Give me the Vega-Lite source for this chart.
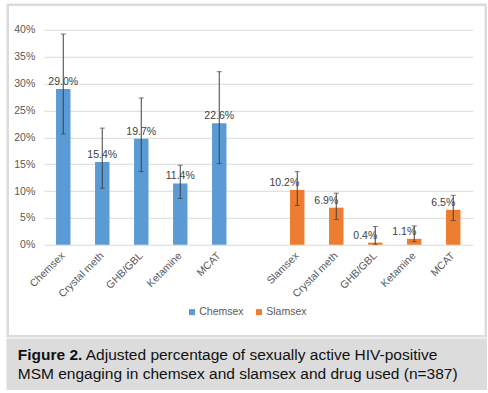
{
  "$schema": "https://vega.github.io/schema/vega-lite/v6.json",
  "background": "white",
  "padding": {"left": 5.75, "top": 2.75, "right": 0, "bottom": 0},
  "columns": 1,
  "spacing": 0,
  "resolve": {"legend": {"color": "independent"}},
  "datasets": {
    "drugs": [
      {"key": "chem|Chemsex", "group": "Chemsex", "value": 0.290, "lo": 0.206, "hi": 0.392},
      {"key": "chem|Crystal meth", "group": "Chemsex", "value": 0.154, "lo": 0.105, "hi": 0.217},
      {"key": "chem|GHB/GBL", "group": "Chemsex", "value": 0.197, "lo": 0.136, "hi": 0.273},
      {"key": "chem|Ketamine", "group": "Chemsex", "value": 0.114, "lo": 0.086, "hi": 0.148},
      {"key": "chem|MCAT", "group": "Chemsex", "value": 0.226, "lo": 0.151, "hi": 0.322},
      {"key": "slam|Slamsex", "group": "Slamsex", "value": 0.102, "lo": 0.073, "hi": 0.136},
      {"key": "slam|Crystal meth", "group": "Slamsex", "value": 0.069, "lo": 0.047, "hi": 0.096},
      {"key": "slam|GHB/GBL", "group": "Slamsex", "value": 0.004, "lo": 0.001, "hi": 0.034},
      {"key": "slam|Ketamine", "group": "Slamsex", "value": 0.011, "lo": 0.006, "hi": 0.035},
      {"key": "slam|MCAT", "group": "Slamsex", "value": 0.065, "lo": 0.045, "hi": 0.092}
    ],
    "caption": [
      {"line": 1, "part": "figure", "text": "Figure 2."},
      {"line": 1, "part": "caption", "text": "Adjusted percentage of sexually active HIV-positive"},
      {"line": 2, "part": "caption", "text": "MSM engaging in chemsex and slamsex and drug used (n=387)"}
    ]
  },
  "concat": [
    {
      "width": 478,
      "height": 331.5,
      "view": {"fill": "white", "stroke": "#dcdcdc", "strokeWidth": 2.5},
      "data": {"name": "drugs"},
      "encoding": {
        "x": {
          "field": "key",
          "type": "nominal",
          "title": null,
          "scale": {
            "domain": ["chem|Chemsex", "chem|Crystal meth", "chem|GHB/GBL", "chem|Ketamine", "chem|MCAT", "gap|", "slam|Slamsex", "slam|Crystal meth", "slam|GHB/GBL", "slam|Ketamine", "slam|MCAT"],
            "range": [36, 465],
            "paddingInner": 0.63,
            "paddingOuter": 0.315
          },
          "axis": {
            "labelExpr": "split(datum.value, '|')[1]",
            "labelAngle": -45,
            "labelAlign": "right",
            "labelBaseline": "middle",
            "labelPadding": 9,
            "labelFontSize": 10.5,
            "labelColor": "#595959",
            "offset": -91.5,
            "domain": false,
            "ticks": false,
            "grid": false
          }
        }
      },
      "layer": [
        {
          "mark": {"type": "bar"},
          "encoding": {
            "y": {
              "field": "value",
              "type": "quantitative",
              "title": null,
              "scale": {"domain": [0, 0.4], "nice": false, "range": [240, 25]},
              "axis": {
                "format": ".0%",
                "values": [0, 0.05, 0.1, 0.15, 0.2, 0.25, 0.3, 0.35, 0.4],
                "offset": -36,
                "domain": false,
                "ticks": false,
                "grid": true,
                "gridColor": "#d9d9d9",
                "gridWidth": 1,
                "labelPadding": 9,
                "labelFontSize": 10.5,
                "labelColor": "#595959"
              }
            },
            "color": {
              "field": "group",
              "type": "nominal",
              "scale": {"domain": ["Chemsex", "Slamsex"], "range": ["#5b9bd5", "#ed7d31"]},
              "legend": {
                "orient": "bottom",
                "title": null,
                "symbolType": "square",
                "symbolSize": 36,
                "symbolStrokeWidth": 0,
                "labelFontSize": 10.5,
                "labelColor": "#595959",
                "labelOffset": 2,
                "columnPadding": 10,
                "offset": -30.5
              }
            }
          }
        },
        {
          "mark": {"type": "errorbar", "ticks": true, "size": 5, "thickness": 1, "color": "#404040"},
          "encoding": {
            "y": {
              "field": "lo",
              "type": "quantitative",
              "title": null,
              "axis": {
                "format": ".0%",
                "values": [0, 0.05, 0.1, 0.15, 0.2, 0.25, 0.3, 0.35, 0.4],
                "offset": -36,
                "domain": false,
                "ticks": false,
                "grid": true,
                "gridColor": "#d9d9d9",
                "gridWidth": 1,
                "labelPadding": 9,
                "labelFontSize": 10.5,
                "labelColor": "#595959"
              }
            },
            "y2": {"field": "hi"}
          }
        },
        {
          "transform": [{"filter": "datum.group == 'Chemsex'"}],
          "mark": {"type": "text", "align": "center", "baseline": "alphabetic", "dy": -4, "fontSize": 10.5, "color": "#404040"},
          "encoding": {
            "y": {
              "field": "value",
              "type": "quantitative",
              "title": null,
              "axis": {
                "format": ".0%",
                "values": [0, 0.05, 0.1, 0.15, 0.2, 0.25, 0.3, 0.35, 0.4],
                "offset": -36,
                "domain": false,
                "ticks": false,
                "grid": true,
                "gridColor": "#d9d9d9",
                "gridWidth": 1,
                "labelPadding": 9,
                "labelFontSize": 10.5,
                "labelColor": "#595959"
              }
            },
            "text": {"field": "value", "type": "quantitative", "format": ".1%"}
          }
        },
        {
          "transform": [{"filter": "datum.group == 'Slamsex'"}],
          "mark": {"type": "text", "align": "right", "baseline": "alphabetic", "dx": 2, "dy": -4, "fontSize": 10.5, "color": "#404040"},
          "encoding": {
            "y": {
              "field": "value",
              "type": "quantitative",
              "title": null,
              "axis": {
                "format": ".0%",
                "values": [0, 0.05, 0.1, 0.15, 0.2, 0.25, 0.3, 0.35, 0.4],
                "offset": -36,
                "domain": false,
                "ticks": false,
                "grid": true,
                "gridColor": "#d9d9d9",
                "gridWidth": 1,
                "labelPadding": 9,
                "labelFontSize": 10.5,
                "labelColor": "#595959"
              }
            },
            "text": {"field": "value", "type": "quantitative", "format": ".1%"}
          }
        }
      ]
    },
    {
      "width": 478,
      "height": 49,
      "view": {"fill": "#dcdcdc", "stroke": "#dcdcdc", "strokeWidth": 2.5},
      "data": {"name": "caption"},
      "encoding": {
        "x": {"datum": 0, "type": "quantitative", "scale": {"domain": [0, 1]}, "axis": null},
        "y": {"field": "line", "type": "ordinal", "scale": {"type": "point", "padding": 0.79}, "axis": null},
        "text": {"field": "text"}
      },
      "layer": [
        {
          "transform": [{"filter": "datum.part == 'figure'"}],
          "mark": {"type": "text", "align": "left", "baseline": "middle", "fontSize": 15.5, "fontWeight": "bold", "dx": 10, "color": "#111111"}
        },
        {
          "transform": [{"filter": "datum.part == 'caption' && datum.line == 1"}],
          "mark": {"type": "text", "align": "left", "baseline": "middle", "fontSize": 15.5, "dx": 78, "color": "#111111"}
        },
        {
          "transform": [{"filter": "datum.part == 'caption' && datum.line == 2"}],
          "mark": {"type": "text", "align": "left", "baseline": "middle", "fontSize": 15.5, "dx": 10, "color": "#111111"}
        }
      ]
    }
  ],
  "config": {
    "font": "Liberation Sans",
    "view": {"stroke": null},
    "legend": {"layout": {"bottom": {"anchor": "middle"}}}
  }
}
